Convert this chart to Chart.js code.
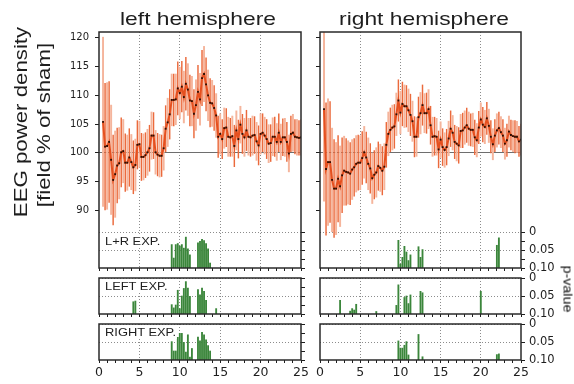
<!DOCTYPE html>
<html>
<head>
<meta charset="utf-8">
<script src="https://cdn.jsdelivr.net/npm/chart.js@4/dist/chart.umd.min.js"></script>
<style>
  html, body { margin: 0; padding: 0; background: #fff; }
  #fig { position: relative; width: 574px; height: 384px; overflow: hidden; background: #fff;
         font-family: "Liberation Sans", Arial, sans-serif; color: #1e1e1e; }
  #fig canvas { position: absolute; left: 0; top: 0; }
  .t { position: absolute; white-space: nowrap; line-height: 1; }
  .ctr { transform: translateX(-50%) scaleX(1.2); }
  .rot { transform: translate(-50%, -50%) rotate(-90deg) scaleX(1.17); }
  .rotcw { transform: translate(-50%, -50%) rotate(90deg) scaleX(1.1); }
  .lab { transform-origin: 0 50%; transform: scaleX(1.12); font-size: 11.5px; background: #fff; }
</style>
</head>
<body>
<div id="fig">
  <canvas id="topL" width="574" height="384"></canvas>
  <canvas id="topR" width="574" height="384"></canvas>
  <canvas id="midL" width="574" height="384"></canvas>
  <canvas id="midR" width="574" height="384"></canvas>
  <canvas id="botL" width="574" height="384"></canvas>
  <canvas id="botR" width="574" height="384"></canvas>

  <div class="t ctr" style="left:198px; top:9px; font-size:19px;">left hemisphere</div>
  <div class="t ctr" style="left:424px; top:9px; font-size:19px;">right hemisphere</div>
  <div class="t rot" style="left:20px; top:122px; font-size:19px;">EEG power density</div>
  <div class="t rot" style="left:43px; top:125px; font-size:19px;">[field % of sham]</div>
  <div class="t rotcw" style="left:568px; top:289px; font-size:13px; color:#111;">p-value</div>
  <div class="t lab" style="left:105px; top:236px;">L+R EXP.</div>
  <div class="t lab" style="left:105px; top:281px;">LEFT EXP.</div>
  <div class="t lab" style="left:105px; top:327px;">RIGHT EXP.</div>
</div>

<script>
// Frequency bins (Hz)
const freqs = [0.5,0.75,1,1.25,1.5,1.75,2,2.25,2.5,2.75,3,3.25,3.5,3.75,4,4.25,4.5,4.75,5,5.25,
  5.5,5.75,6,6.25,6.5,6.75,7,7.25,7.5,7.75,8,8.25,8.5,8.75,9,9.25,9.5,9.75,10,10.25,
  10.5,10.75,11,11.25,11.5,11.75,12,12.25,12.5,12.75,13,13.25,13.5,13.75,14,14.25,14.5,14.75,15,15.25,
  15.5,15.75,16,16.25,16.5,16.75,17,17.25,17.5,17.75,18,18.25,18.5,18.75,19,19.25,19.5,19.75,20,20.25,
  20.5,20.75,21,21.25,21.5,21.75,22,22.25,22.5,22.75,23,23.25,23.5,23.75,24,24.25,24.5,24.75,25];

// Left hemisphere: mean power density (% of sham) and error half-width
const leftMean = [105.4,101.1,101.2,101.9,98.8,95.3,96.3,97.8,98.2,100.1,
  100.3,98.3,98.3,99.2,98.4,97.5,97.9,101.4,101.5,99.3,
  99.3,99.6,100.1,100.8,103.0,103.0,100.1,99.7,99.5,99.5,
  100.8,104.2,105.3,106.7,109.2,109.2,109.3,111.2,110.4,111.5,
  109.7,112.0,111.0,109.1,109.0,106.8,108.3,110.6,109.3,113.0,
  113.7,111.9,110.0,108.7,108.6,107.8,106.5,102.8,103.3,102.4,
  104.3,104.4,102.8,102.7,102.9,101.2,103.9,102.4,104.9,103.3,
  102.7,103.9,102.8,102.7,103.0,103.1,102.0,101.3,103.3,103.5,
  103.0,102.4,101.6,101.7,102.8,102.8,101.9,103.5,101.9,102.7,
  102.7,101.9,99.9,103.3,103.5,102.8,102.7,102.6,102.7];
const leftErr = [14.7,11.0,11.0,10.5,9.5,7.8,7.5,6.5,6.2,6.0,
  5.5,5.0,4.8,5.0,4.8,4.6,4.5,4.2,4.0,4.1,
  4.0,3.9,4.0,4.0,4.1,4.0,3.8,3.7,3.7,3.6,
  3.8,4.0,4.2,4.3,4.5,4.5,4.4,4.6,4.5,4.4,
  4.5,4.6,4.5,4.4,4.3,4.2,4.4,4.6,4.5,4.8,
  4.8,4.6,4.4,4.2,4.0,3.9,3.8,3.6,3.5,3.4,
  3.5,3.3,3.4,3.3,3.5,3.6,3.4,3.3,3.2,3.4,
  3.3,3.5,3.2,3.3,3.4,3.2,3.3,3.4,3.5,3.3,
  3.2,3.4,3.3,3.2,3.3,3.4,3.2,3.3,3.1,3.2,
  3.3,3.4,3.2,3.1,3.2,3.0,3.1,3.0,3.1];

// Right hemisphere
const rightMean = [107.6,97.2,98.4,98.4,95.3,93.8,93.8,95.5,94.2,96.1,
  96.9,96.7,96.6,96.4,97.1,97.5,98.1,98.3,98.3,99.1,
  100.1,99.2,98.1,97.3,95.6,96.2,96.6,97.7,97.4,96.9,
  97.6,101.4,103.3,104.0,104.4,104.6,106.7,109.1,107.0,108.5,
  108.1,108.1,107.4,106.6,105.5,102.8,102.8,106.2,106.9,108.3,
  106.9,106.9,107.6,104.8,102.8,102.9,102.8,100.6,102.3,101.0,
  100.5,101.0,102.5,104.2,103.5,101.9,101.6,101.3,103.8,103.9,
  104.4,104.8,104.2,104.0,104.0,102.7,102.2,104.4,105.8,104.9,
  104.5,106.0,104.7,102.8,101.5,103.0,103.9,104.3,103.6,103.0,
  101.6,102.2,103.7,103.1,102.9,102.8,102.8,102.0,102.3];
const rightErr = [16.0,11.5,11.0,10.5,9.0,8.5,8.0,7.5,7.0,6.5,
  6.0,5.8,5.5,5.4,5.2,5.0,4.9,4.8,4.7,4.6,
  4.5,4.4,4.5,4.3,4.4,4.2,4.3,4.2,4.1,4.2,
  4.0,3.9,3.8,3.8,3.9,3.8,3.7,3.6,3.7,3.8,
  3.7,3.6,3.7,3.6,3.5,3.5,3.4,3.5,3.6,3.5,
  3.4,3.5,3.4,3.3,3.4,3.3,3.2,3.2,3.1,3.2,
  3.0,3.1,3.0,3.1,3.0,2.9,3.0,3.1,2.9,3.0,
  2.9,3.0,2.9,2.8,2.9,3.0,2.9,2.8,2.9,3.0,
  2.9,2.8,2.9,2.8,2.7,2.8,2.9,2.8,2.7,2.8,
  2.7,2.8,2.7,2.6,2.7,2.8,2.7,2.6,2.7];

// Significance (p < 0.10) per frequency bin
const lrLeftHz  = [9,9.25,9.5,9.75,10,10.25,10.5,10.75,11,11.25, 12.25,12.5,12.75,13,13.25,13.5,13.75];
const lrLeftP   = [0.034,0.072,0.034,0.031,0.038,0.034,0.044,0.013,0.046,0.063, 0.029,0.025,0.019,0.023,0.031,0.046,0.086];
const lrRightHz = [9.75,10,10.25,10.5,10.75,11,11.25, 12.25,12.5,12.75, 22,22.25];
const lrRightP  = [0.022,0.089,0.070,0.039,0.055,0.079,0.063, 0.040,0.070,0.048, 0.036,0.015];

const leftExpLeftHz  = [4.25,4.5, 9,9.25,9.5,9.75,10,10.25,10.5,10.75,11,11.25, 12.25,12.5,12.75,13,13.25, 14.5];
const leftExpLeftP   = [0.066,0.064, 0.074,0.083,0.075,0.034,0.085,0.050,0.029,0.010,0.028,0.051, 0.032,0.047,0.028,0.037,0.062, 0.085];
const leftExpRightHz = [2.5, 3.75,4,4.25,4.5, 7, 9.5,9.75, 10.5,10.75,11,11.25, 12.5,12.75, 20];
const leftExpRightP  = [0.062, 0.092,0.085,0.089,0.073, 0.093, 0.076,0.019, 0.054,0.050,0.071,0.047, 0.037,0.041, 0.037];

const rightExpLeftHz  = [9,9.25,9.5,9.75,10,10.25,10.5,10.75,11,11.25,11.5, 12.25,12.5,12.75,13,13.25,13.5,13.75];
const rightExpLeftP   = [0.049,0.075,0.075,0.037,0.026,0.026,0.051,0.078,0.030,0.092,0.068, 0.036,0.047,0.023,0.030,0.044,0.060,0.075];
const rightExpRightHz = [9.75,10,10.25,10.5,10.75,11, 12.25,12.75, 22,22.25];
const rightExpRightP  = [0.047,0.067,0.067,0.059,0.049,0.086, 0.029,0.091, 0.085,0.083];

// Axis ticks
const eegTicks = [90, 95, 100, 105, 110, 115, 120];
const pTicks = [0, 0.025, 0.05, 0.075, 0.1];
const pTickLabels = {0: '0', 0.05: '0.05', 0.1: '0.10'};
const hzTicks = [0,1,2,3,4,5,6,7,8,9,10,11,12,13,14,15,16,17,18,19,20,21,22,23,24,25];

// ---- styling ----
const W = 574, H = 384;
const INK = '#1e1e1e';
const TICK_FONT = {family: 'DejaVu Sans', size: 10};
const ERR_DARK = '#eb6a3c', ERR_LIGHT = '#f5b59c';
const LINE_COL = '#e5501f', PT_COL = '#2a0e04';
const BAR_FILL = '#3b863b';
const GRID_DOT = '#8c8c8c';
const NONE = 'rgba(0,0,0,0)';

const framePlugin = {
  id: 'frame',
  afterDatasetsDraw(chart) {
    const a = chart.chartArea, c = chart.ctx;
    c.save();
    c.strokeStyle = '#2a2a2a';
    c.lineWidth = 1.5;
    c.strokeRect(a.left, a.top, a.right - a.left, a.bottom - a.top);
    c.restore();
  }
};

function xScale(labels, axisH) {
  return {
    type: 'linear', min: 0, max: 25, offset: false, position: 'bottom',
    afterBuildTicks(s) { s.ticks = hzTicks.map(v => ({value: v})); },
    ticks: { display: labels, autoSkip: false, maxRotation: 0, padding: 2,
             font: {family: 'DejaVu Sans', size: 12.5}, color: INK,
             callback: v => (v % 5 === 0 ? String(v) : '') },
    grid: { offset: false, lineWidth: 1,
            color: c => (c.tick && c.tick.value % 5 === 0 && c.tick.value > 0 && c.tick.value < 25) ? GRID_DOT : NONE,
            tickColor: INK, tickLength: 3, tickWidth: 1 },
    border: { display: false, dash: [1, 2] },
    afterFit(s) { s.height = axisH; }
  };
}

function pScale(min, labels, axisW) {
  return {
    type: 'linear', position: 'right', reverse: true, min: min, max: 0.1,
    afterBuildTicks(s) { s.ticks = pTicks.map(v => ({value: v})); },
    ticks: { display: labels, padding: 4, font: {family: 'DejaVu Sans', size: 11.5}, color: INK,
             callback: v => (pTickLabels[v] !== undefined ? pTickLabels[v] : '') },
    grid: { lineWidth: 1,
            color: c => (c.tick && (c.tick.value === 0 || c.tick.value === 0.05)) ? GRID_DOT : NONE,
            tickColor: INK, tickLength: 4, tickWidth: 1 },
    border: { display: false, dash: [1, 2] },
    afterFit(s) { s.width = axisW; }
  };
}

function eegScale(labels, axisW) {
  return {
    type: 'linear', position: 'left', min: 80, max: 121,
    afterBuildTicks(s) { s.ticks = eegTicks.map(v => ({value: v})); },
    ticks: { display: labels, padding: 6, font: TICK_FONT, color: INK },
    grid: { lineWidth: 1,
            color: c => (c.tick && c.tick.value === 100) ? '#6e6e6e' : NONE,
            tickColor: INK, tickLength: 4, tickWidth: 1 },
    border: { display: false },
    afterFit(s) { s.width = axisW; }
  };
}

function pBars(hz, p, axisId) {
  return {
    type: 'bar', yAxisID: axisId, grouped: false, order: 1,
    data: hz.map((f, i) => ({x: f, y: [p[i], 0.1]})),
    backgroundColor: BAR_FILL, borderWidth: 0,
    barThickness: 1.2
  };
}

function errBars(mean, err, parity, thick, color) {
  const pts = [];
  freqs.forEach((f, i) => {
    if (i % 2 === parity) pts.push({x: f, y: [mean[i] - err[i], mean[i] + err[i]]});
  });
  return { type: 'bar', yAxisID: 'y', grouped: false, order: 2, data: pts,
           backgroundColor: color, borderWidth: 0, barThickness: thick };
}

function meanLine(mean) {
  return { type: 'line', yAxisID: 'y', order: 0,
           data: freqs.map((f, i) => ({x: f, y: mean[i]})),
           borderColor: LINE_COL, borderWidth: 2, tension: 0,
           pointStyle: 'rect', pointRadius: 1.3, pointBackgroundColor: PT_COL, pointBorderWidth: 0 };
}

function base(frame, axes) {
  return {
    responsive: false, animation: false, events: [],
    layout: { padding: {
      left: frame.l - (axes.left || 0),
      right: W - frame.r - (axes.right || 0),
      top: frame.t,
      bottom: H - frame.b - (axes.bottom || 0)
    } },
    plugins: { legend: {display: false}, tooltip: {enabled: false}, title: {display: false} }
  };
}

const colL = {l: 99, r: 301}, colR = {l: 320, r: 521};
const rows = { top: {t: 32, b: 268}, mid: {t: 278, b: 314}, bot: {t: 324, b: 360} };

function topPanel(id, col, mean, err, hz, p, isLeft) {
  const frame = {l: col.l, r: col.r, t: rows.top.t, b: rows.top.b};
  const leftW = isLeft ? 40 : 5, rightW = isLeft ? 5 : 40;
  const opts = base(frame, {left: leftW, right: rightW, bottom: 3});
  opts.scales = {
    x: xScale(false, 3),
    y: eegScale(isLeft, leftW),
    p: pScale(-0.565, !isLeft, rightW)
  };
  new Chart(document.getElementById(id), {
    type: 'bar',
    data: { datasets: [
      errBars(mean, err, 0, 1.3, ERR_LIGHT),
      errBars(mean, err, 1, 0.8, ERR_DARK),
      pBars(hz, p, 'p'),
      meanLine(mean)
    ] },
    options: opts,
    plugins: [framePlugin]
  });
}

function barPanel(id, col, row, hz, p, isLeft, xLabels) {
  const frame = {l: col.l, r: col.r, t: row.t, b: row.b};
  const rightW = isLeft ? 5 : 40, bottomH = xLabels ? 22 : 3;
  const opts = base(frame, {right: rightW, bottom: bottomH});
  opts.scales = {
    x: xScale(xLabels, bottomH),
    p: pScale(0, !isLeft, rightW)
  };
  new Chart(document.getElementById(id), {
    type: 'bar',
    data: { datasets: [ pBars(hz, p, 'p') ] },
    options: opts,
    plugins: [framePlugin]
  });
}

topPanel('topL', colL, leftMean, leftErr, lrLeftHz, lrLeftP, true);
topPanel('topR', colR, rightMean, rightErr, lrRightHz, lrRightP, false);
barPanel('midL', colL, rows.mid, leftExpLeftHz, leftExpLeftP, true, false);
barPanel('midR', colR, rows.mid, leftExpRightHz, leftExpRightP, false, false);
barPanel('botL', colL, rows.bot, rightExpLeftHz, rightExpLeftP, true, true);
barPanel('botR', colR, rows.bot, rightExpRightHz, rightExpRightP, false, true);
</script>
</body>
</html>
